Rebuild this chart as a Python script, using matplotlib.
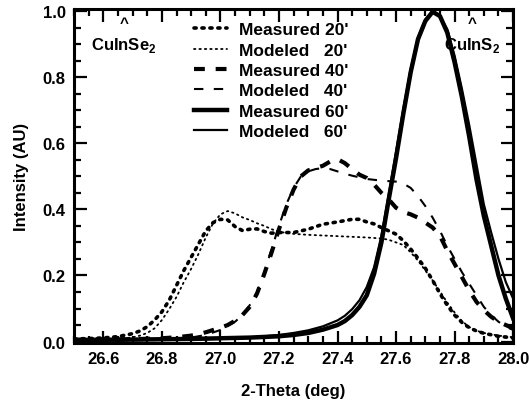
import matplotlib
matplotlib.use("Agg")
import matplotlib.pyplot as plt
from matplotlib.ticker import MultipleLocator

plt.rcParams['font.family'] = ['Liberation Sans', 'DejaVu Sans']
plt.rcParams['font.weight'] = 'bold'
plt.rcParams['mathtext.fontset'] = 'custom'
plt.rcParams['mathtext.rm'] = 'Liberation Sans:bold'
plt.rcParams['mathtext.bf'] = 'Liberation Sans:bold'

# Measured / modeled XRD (112) peak profiles after 20, 40 and 60 minutes
x_meas20 = [26.50, 26.55, 26.60, 26.65, 26.70, 26.725, 26.75, 26.775, 26.80, 26.825, 26.85,
            26.875, 26.90, 26.925, 26.95, 26.975, 27.00, 27.025, 27.05, 27.075, 27.10, 27.125,
            27.15, 27.175, 27.20, 27.25, 27.30, 27.35, 27.40, 27.45, 27.475, 27.50, 27.525,
            27.55, 27.575, 27.60, 27.625, 27.65, 27.675, 27.70, 27.725, 27.75, 27.775, 27.80,
            27.825, 27.85, 27.875, 27.90, 27.95, 28.00]
y_meas20 = [0.008, 0.009, 0.011, 0.015, 0.024, 0.032, 0.045, 0.065, 0.090, 0.125, 0.170,
            0.215, 0.255, 0.295, 0.335, 0.360, 0.370, 0.368, 0.348, 0.336, 0.340, 0.341,
            0.333, 0.328, 0.330, 0.330, 0.340, 0.355, 0.362, 0.370, 0.370, 0.362, 0.356,
            0.345, 0.335, 0.325, 0.305, 0.280, 0.252, 0.222, 0.185, 0.145, 0.110, 0.080,
            0.058, 0.042, 0.032, 0.025, 0.016, 0.011]

x_mod20 = [26.50, 26.60, 26.65, 26.70, 26.725, 26.75, 26.775, 26.80, 26.825, 26.85, 26.875,
           26.90, 26.925, 26.95, 26.975, 27.00, 27.025, 27.05, 27.075, 27.10, 27.125, 27.15,
           27.175, 27.20, 27.25, 27.30, 27.35, 27.40, 27.45, 27.50, 27.55, 27.575, 27.60,
           27.625, 27.65, 27.675, 27.70, 27.725, 27.75, 27.775, 27.80, 27.825, 27.85, 27.875,
           27.90, 27.95, 28.00]
y_mod20 = [0.002, 0.004, 0.007, 0.013, 0.018, 0.026, 0.040, 0.065, 0.098, 0.135, 0.180,
           0.220, 0.265, 0.315, 0.358, 0.385, 0.395, 0.388, 0.376, 0.368, 0.358, 0.350,
           0.340, 0.332, 0.326, 0.323, 0.321, 0.319, 0.317, 0.315, 0.312, 0.308, 0.300,
           0.292, 0.270, 0.245, 0.215, 0.185, 0.152, 0.118, 0.088, 0.062, 0.044, 0.033,
           0.026, 0.018, 0.013]

x_meas40 = [26.50, 26.70, 26.80, 26.85, 26.90, 26.95, 27.00, 27.025, 27.05, 27.075, 27.10,
            27.125, 27.15, 27.175, 27.20, 27.225, 27.25, 27.275, 27.30, 27.325, 27.35, 27.375,
            27.40, 27.425, 27.45, 27.475, 27.50, 27.525, 27.55, 27.575, 27.60, 27.625, 27.65,
            27.675, 27.70, 27.725, 27.75, 27.775, 27.80, 27.825, 27.85, 27.875, 27.90, 27.925,
            27.95, 27.975, 28.00]
y_meas40 = [0.005, 0.007, 0.010, 0.013, 0.018, 0.028, 0.042, 0.050, 0.063, 0.080, 0.105,
            0.145, 0.205, 0.270, 0.340, 0.405, 0.460, 0.500, 0.518, 0.525, 0.532, 0.545,
            0.552, 0.540, 0.522, 0.505, 0.495, 0.475, 0.450, 0.430, 0.405, 0.392, 0.385,
            0.375, 0.360, 0.345, 0.320, 0.275, 0.235, 0.195, 0.155, 0.120, 0.095, 0.075,
            0.060, 0.050, 0.040]

x_mod40 = [26.50, 26.80, 26.90, 26.95, 27.00, 27.05, 27.075, 27.10, 27.125, 27.15, 27.175,
           27.20, 27.225, 27.25, 27.275, 27.30, 27.325, 27.35, 27.375, 27.40, 27.425, 27.45,
           27.50, 27.55, 27.60, 27.625, 27.65, 27.675, 27.70, 27.725, 27.75, 27.775, 27.80,
           27.825, 27.85, 27.875, 27.90, 27.925, 27.95, 27.975, 28.00]
y_mod40 = [0.002, 0.005, 0.012, 0.020, 0.035, 0.060, 0.080, 0.110, 0.150, 0.210, 0.280,
           0.350, 0.415, 0.465, 0.500, 0.515, 0.522, 0.525, 0.522, 0.515, 0.508, 0.502,
           0.492, 0.487, 0.484, 0.478, 0.465, 0.440, 0.410, 0.375, 0.335, 0.290, 0.250,
           0.210, 0.175, 0.140, 0.105, 0.080, 0.060, 0.045, 0.035]

x_meas60 = [26.50, 26.70, 26.90, 27.00, 27.10, 27.20, 27.25, 27.30, 27.35, 27.40, 27.425,
            27.45, 27.475, 27.50, 27.525, 27.55, 27.575, 27.60, 27.625, 27.65, 27.675, 27.70,
            27.725, 27.75, 27.775, 27.80, 27.825, 27.85, 27.875, 27.90, 27.925, 27.95, 27.975,
            28.00]
y_meas60 = [0.005, 0.006, 0.008, 0.010, 0.012, 0.016, 0.020, 0.026, 0.036, 0.050, 0.062,
            0.080, 0.105, 0.140, 0.205, 0.300, 0.430, 0.555, 0.690, 0.815, 0.915, 0.970,
            0.998, 0.985, 0.935, 0.845, 0.740, 0.620, 0.490, 0.380, 0.290, 0.200, 0.130,
            0.070]

x_mod60 = [26.50, 26.80, 27.00, 27.10, 27.20, 27.25, 27.30, 27.35, 27.40, 27.425, 27.45,
           27.475, 27.50, 27.525, 27.55, 27.575, 27.60, 27.625, 27.65, 27.675, 27.70, 27.725,
           27.75, 27.775, 27.80, 27.825, 27.85, 27.875, 27.90, 27.925, 27.95, 27.975, 28.00]
y_mod60 = [0.003, 0.005, 0.008, 0.012, 0.020, 0.026, 0.034, 0.046, 0.064, 0.078, 0.098,
           0.125, 0.165, 0.225, 0.320, 0.445, 0.575, 0.705, 0.825, 0.920, 0.975, 1.000,
           0.985, 0.945, 0.865, 0.765, 0.655, 0.535, 0.415, 0.330, 0.250, 0.180, 0.130]

legend_labels = ["Measured 20'", "Modeled   20'", "Measured 40'",
                 "Modeled   40'", "Measured 60'", "Modeled   60'"]

phase_labels = [r'CuInSe$_{2}$', r'CuInS$_{2}$']
phase_pos = [26.67, 27.86]

fig = plt.figure(figsize=(5.29, 4.06), dpi=100)
ax = fig.add_axes([0.140, 0.153, 0.830, 0.822])

ax.plot(x_meas20, y_meas20, color='black', lw=2.6, linestyle=(0, (0.6, 1.6)),
        dash_capstyle='round', label=legend_labels[0], zorder=3)
ax.plot(x_mod20, y_mod20, color='black', lw=1.3, linestyle=(0, (0.8, 2.2)),
        dash_capstyle='round', label=legend_labels[1], zorder=3)
ax.plot(x_meas40, y_meas40, color='black', lw=3.0, linestyle=(0, (2.6, 2.6)),
        label=legend_labels[2], zorder=3)
ax.plot(x_mod40, y_mod40, color='black', lw=1.5, linestyle=(0, (4.5, 5.0)),
        label=legend_labels[3], zorder=3)
ax.plot(x_meas60, y_meas60, color='black', lw=3.2, linestyle='-',
        label=legend_labels[4], zorder=3)
ax.plot(x_mod60, y_mod60, color='black', lw=1.6, linestyle='-',
        label=legend_labels[5], zorder=4)

for name, pos in zip(phase_labels, phase_pos):
    ax.text(pos, 0.985, '^', ha='center', va='top', fontsize=11, fontweight='bold', zorder=1)
    ax.text(pos, 0.90, name, ha='center', va='center', fontsize=12, fontweight='bold', zorder=1)

ax.set_xlim(26.5, 28.0)
ax.set_ylim(-0.004, 1.006)
ax.xaxis.set_major_locator(MultipleLocator(0.2))
ax.xaxis.set_minor_locator(MultipleLocator(0.05))
ax.yaxis.set_major_locator(MultipleLocator(0.2))
ax.yaxis.set_minor_locator(MultipleLocator(0.05))
ax.xaxis.set_major_formatter(plt.FormatStrFormatter('%.1f'))
ax.yaxis.set_major_formatter(plt.FormatStrFormatter('%.1f'))
ax.tick_params(which='both', direction='in', top=True, right=True, width=1.6, labelsize=12)
ax.tick_params(which='major', length=9, pad=6)
ax.tick_params(which='minor', length=5)
for lab in ax.get_xticklabels() + ax.get_yticklabels():
    lab.set_fontweight('bold')
for sp in ax.spines.values():
    sp.set_linewidth(2.2)

ax.set_xlabel('2-Theta (deg)', fontsize=12, fontweight='bold', labelpad=12)
ax.set_ylabel('Intensity (AU)', fontsize=12, fontweight='bold', labelpad=10)

leg = ax.legend(loc='upper left', bbox_to_anchor=(0.258, 0.982), frameon=False,
                fontsize=12.5, handlelength=1.9, handletextpad=0.7, labelspacing=0.30,
                borderaxespad=0.0)
for t in leg.get_texts():
    t.set_fontweight('bold')

fig.savefig('out.png', dpi=100)
